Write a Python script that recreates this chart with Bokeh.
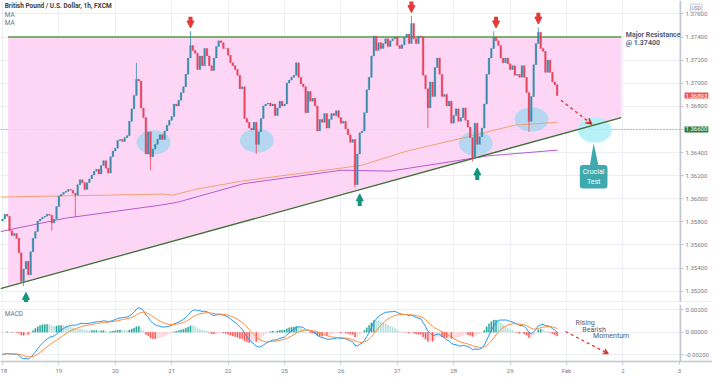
import numpy as np
from bokeh.plotting import figure
from bokeh.models import (Range1d, FixedTicker, PrintfTickFormatter, Label, Arrow,
                          NormalHead, VeeHead, ColumnDataSource, Span, BoxAnnotation)
from bokeh.layouts import column
from bokeh.embed import file_html
from bokeh.resources import INLINE

# ---------------- data ----------------
day_labels = ["18", "19", "20", "21", "22", "25", "26", "27", "28", "29", "Feb", "2", "3"]

first_open = 1.35807
close_18 = [1.35824, 1.35865, 1.35849, 1.35724, 1.35683, 1.35699, 1.35658, 1.35533, 1.35284, 1.35392, 1.35458, 1.35342,
            1.35541, 1.35658, 1.35716, 1.35807, 1.35824, 1.35840, 1.35849, 1.35865, 1.35857, 1.35790, 1.35824, 1.35932]
close_19 = [1.36023, 1.36039, 1.36056, 1.36064, 1.36081, 1.36073, 1.36048, 1.36031, 1.36122, 1.36164, 1.36139, 1.36081,
            1.36139, 1.36172, 1.36205, 1.36239, 1.36255, 1.36214, 1.36288, 1.36330, 1.36264, 1.36222, 1.36363, 1.36413]
close_20 = [1.36438, 1.36504, 1.36513, 1.36496, 1.36529, 1.36546, 1.36670, 1.36778, 1.36894, 1.37035, 1.37019, 1.36786,
            1.36703, 1.36388, 1.36579, 1.36363, 1.36430, 1.36471, 1.36513, 1.36554, 1.36513, 1.36587, 1.36637, 1.36679]
close_21 = [1.36712, 1.36820, 1.36803, 1.36853, 1.36919, 1.36969, 1.37077, 1.37218, 1.37326, 1.37284, 1.37260, 1.37118,
            1.37235, 1.37152, 1.37301, 1.37235, 1.37152, 1.37110, 1.37218, 1.37318, 1.37367, 1.37351, 1.37301, 1.37301]
close_22 = [1.37243, 1.37177, 1.37152, 1.37118, 1.37069, 1.36952, 1.36969, 1.36695, 1.36662, 1.36612, 1.36596, 1.36662,
            1.36471, 1.36579, 1.36695, 1.36803, 1.36820, 1.36828, 1.36803, 1.36820, 1.36720, 1.36786, 1.36845, 1.36803]
close_25 = [1.36820, 1.37002, 1.37027, 1.37052, 1.37069, 1.37177, 1.37052, 1.36994, 1.36969, 1.36745, 1.36928, 1.36845,
            1.36869, 1.36803, 1.36587, 1.36687, 1.36662, 1.36737, 1.36612, 1.36687, 1.36737, 1.36720, 1.36762, 1.36703]
close_26 = [1.36654, 1.36670, 1.36604, 1.36554, 1.36488, 1.36513, 1.36122, 1.36388, 1.36571, 1.36587, 1.36745, 1.36944,
            1.37052, 1.37235, 1.37409, 1.37284, 1.37351, 1.37301, 1.37343, 1.37384, 1.37318, 1.37367, 1.37384, 1.37401]
close_27 = [1.37326, 1.37301, 1.37334, 1.37401, 1.37426, 1.37343, 1.37517, 1.37384, 1.37343, 1.37409, 1.37401, 1.37069,
            1.36952, 1.36786, 1.37011, 1.36886, 1.37135, 1.37218, 1.37077, 1.36886, 1.36903, 1.36803, 1.36845, 1.36654]
close_28 = [1.36720, 1.36778, 1.36670, 1.36703, 1.36786, 1.36679, 1.36620, 1.36529, 1.36355, 1.36654, 1.36471, 1.36537,
            1.36612, 1.36820, 1.37077, 1.37218, 1.37301, 1.37401, 1.37367, 1.37326, 1.37218, 1.37177, 1.37218, 1.37168]
close_29 = [1.37118, 1.37152, 1.37069, 1.37077, 1.37052, 1.37152, 1.37052, 1.36919, 1.36670, 1.36886, 1.37160, 1.37343,
            1.37442, 1.37301, 1.37276, 1.37094, 1.37201, 1.37094, 1.37011, 1.36986, 1.36893]

# long wicks: (day index, hour, price)
wick_lows = [(0, 9, 1.35243), (0, 21, 1.35724), (1, 7, 1.35840), (2, 15, 1.36247), (4, 12, 1.36388),
             (6, 6, 1.36097), (7, 13, 1.36612), (8, 8, 1.36322), (9, 8, 1.36579)]
wick_highs = [(2, 9, 1.37177), (3, 8, 1.37450), (7, 6, 1.37583), (8, 17, 1.37450), (9, 12, 1.37484)]

# moving averages (time in trading days from Jan 18, price)
ma1_t = [-0.035, 2.85, 3.02, 3.42, 4.28, 6.36, 7.17, 8.26, 8.60, 9.08, 9.84]
ma1_v = [1.36015, 1.36040, 1.36031, 1.36081, 1.36156, 1.36288, 1.36413, 1.36537, 1.36579, 1.36637, 1.36662]
ma2_t = [-0.035, 1.12, 2.85, 3.13, 4.28, 6.01, 6.87, 7.74, 8.60, 9.84]
ma2_v = [1.35716, 1.35832, 1.35948, 1.35973, 1.36131, 1.36247, 1.36239, 1.36305, 1.36371, 1.36421]

resistance = 1.37400
key_level = 1.36600
last_price = 1.36893
trend_t = [0.0, 10.97]
trend_p = [1.35226, 1.36703]
zone_t0, zone_t1 = 0.10, 10.97

tops = [(3, 8, 1.37450), (7, 6, 1.37583), (8, 18, 1.37450), (9, 12, 1.37484)]
bottoms = [(0, 10, 1.35243), (6, 8, 1.36097), (8, 10, 1.36322)]
zones_t = [2.68, 4.51, 8.39, 9.38]
zones_p = [1.36488, 1.36504, 1.36479, 1.36687]
crucial_t, crucial_p = 10.50, 1.36596
proj_start = (9.90, 1.36853)
proj_end = (10.45, 1.36645)

# MACD seeds read from the left edge of the MACD panel (about -0.0020)
ema_fast_seed, ema_slow_seed, signal_seed = 1.36000, 1.36200, -0.00190
macd_note_t = [10.16, 10.28, 10.47]
macd_note_v = [0.00083, 0.00023, -0.00037]
macd_arrow = (9.98, 0.00006, 10.74, -0.00190)

price_ticks = [1.352, 1.354, 1.356, 1.358, 1.360, 1.362, 1.364, 1.366, 1.368, 1.370, 1.372, 1.374, 1.376]
macd_ticks = [-0.002, 0.0, 0.002]

# ---------------- derived series ----------------
days = [close_18, close_19, close_20, close_21, close_22, close_25, close_26, close_27, close_28, close_29]
closes = np.array(sum(days, []))
n = len(closes)
t = np.arange(n) / 24.0
opens = np.concatenate([[first_open], closes[:-1]])
highs = np.maximum(opens, closes)
lows = np.minimum(opens, closes)
for d, h, v in wick_highs:
    highs[d * 24 + h] = v
for d, h, v in wick_lows:
    lows[d * 24 + h] = v

UP, DOWN = "#3b8eab", "#e8455e"
ccol = [UP if c >= o else DOWN for o, c in zip(opens, closes)]
src = ColumnDataSource(dict(t=t, o=opens, c=closes, h=highs, l=lows,
                            top=np.maximum(opens, closes), bot=np.minimum(opens, closes), col=ccol))


def ema(vals, span, seed):
    a = 2.0 / (span + 1)
    out = np.empty(len(vals))
    prev = seed
    for i, v in enumerate(vals):
        prev = prev + a * (v - prev)
        out[i] = prev
    return out


macd = ema(closes, 12, ema_fast_seed) - ema(closes, 26, ema_slow_seed)
signal = ema(macd, 9, signal_seed)
hist = macd - signal
hcol = []
for i, hv in enumerate(hist):
    prev = hist[i - 1] if i else hv
    if hv >= 0:
        hcol.append("#26a69a" if hv >= prev else "#b2dfdb")
    else:
        hcol.append("#ff5252" if hv < prev else "#ffcdd2")


def trend(x):
    return trend_p[0] + (trend_p[1] - trend_p[0]) * (x - trend_t[0]) / (trend_t[1] - trend_t[0])


# ---------------- figures ----------------
FONT = "Roboto"
GRID = "#eceef3"
AX = "#787b86"
AXIS_AT = 12.02
xr = Range1d(-0.0345, 12.587)


def style_axis(a):
    a.major_label_text_font_size = "6px"
    a.major_label_text_font = FONT
    a.major_label_text_color = AX
    a.major_tick_out = 3
    a.major_tick_in = 0
    a.minor_tick_out = 0
    a.minor_tick_in = 0
    a.major_label_standoff = 2
    a.axis_line_color = "#c3c6ce"
    a.axis_line_width = 1.5
    a.major_tick_line_color = "#c3c6ce"


p1 = figure(frame_width=712, frame_height=302, x_range=xr, y_range=Range1d(1.35102, 1.37716),
            y_axis_location="right", output_backend="svg", toolbar_location=None,
            min_border_left=0, min_border_top=0, min_border_bottom=0, min_border_right=0)
p1.xaxis.visible = False
p1.outline_line_color = None
p1.xgrid.ticker = FixedTicker(ticks=list(range(13)))
p1.ygrid.ticker = FixedTicker(ticks=price_ticks)
for g in (p1.xgrid, p1.ygrid):
    g.grid_line_color = GRID
ya = p1.yaxis[0]
ya.fixed_location = AXIS_AT
ya.ticker = FixedTicker(ticks=price_ticks)
ya.formatter = PrintfTickFormatter(format="%.5f")
style_axis(ya)

p1.add_layout(Span(location=key_level, dimension="width", line_color="#808080",
                   line_dash="1 2", line_width=1, level="underlay"))
p1.add_layout(BoxAnnotation(left=AXIS_AT, fill_color="white", fill_alpha=1, line_alpha=0, level="underlay"))
p1.add_layout(Span(location=p1.y_range.start, dimension="width", line_color="#dfe2ea", line_width=2,
                   level="underlay"))

# pink triangle zone
p1.patch([zone_t0, zone_t1, zone_t1, zone_t0],
         [resistance, resistance, trend(zone_t1), trend(zone_t0)],
         fill_color="#fdd2f5", fill_alpha=0.9, line_alpha=0)

# zones
p1.ellipse(x=zones_t, y=zones_p, width=0.6, height=0.0021, fill_color="#a9d7f0",
           fill_alpha=0.85, line_alpha=0)
p1.ellipse(x=[crucial_t], y=[crucial_p], width=0.6, height=0.0022, fill_color="#b0f0f6",
           fill_alpha=0.9, line_alpha=0)

# MAs
p1.line(ma1_t, ma1_v, line_color="#f3a072", line_width=1)
p1.line(ma2_t, ma2_v, line_color="#b35bcf", line_width=1)

# lines
p1.line([zone_t0, zone_t1], [resistance, resistance], line_color="#539c3e", line_width=1.3)
p1.line([xr.start, trend_t[1]], [trend(xr.start), trend(trend_t[1])], line_color="#3f6f35", line_width=1.3)

# candles
p1.segment(x0="t", y0="h", x1="t", y1="l", color="col", line_width=0.8, source=src)
p1.vbar(x="t", top="top", bottom="bot", width=0.72 / 24, fill_color="col", line_color="col",
        line_width=0.3, source=src)

# pivot arrows
for d, h, v in tops:
    x = d + h / 24.0
    p1.add_layout(Arrow(end=NormalHead(size=7, fill_color="#e53935", line_color="#e53935"),
                        x_start=x, y_start=v + 0.00125, x_end=x, y_end=v + 0.00028,
                        line_color="#e53935", line_width=4))
for d, h, v in bottoms:
    x = d + h / 24.0
    p1.add_layout(Arrow(end=NormalHead(size=7, fill_color="#14957e", line_color="#14957e"),
                        x_start=x, y_start=v - 0.00160, x_end=x, y_end=v - 0.00055,
                        line_color="#14957e", line_width=4))

# projection arrow
p1.add_layout(Arrow(end=VeeHead(size=6, line_color="#e53935", line_width=1.2),
                    x_start=proj_start[0], y_start=proj_start[1], x_end=proj_end[0], y_end=proj_end[1],
                    line_color="#e53935", line_width=1.4, line_dash="3 3"))

# callout
p1.patch([crucial_t - 0.09, crucial_t + 0.07, crucial_t - 0.02],
         [1.36280, 1.36280, 1.36480], fill_color="#3fa9ad", line_alpha=0)
p1.add_layout(Label(x=crucial_t - 0.02, y=1.36190, text="Crucial\nTest", text_align="center",
                    text_baseline="middle", text_color="white", text_font=FONT, text_font_size="7px",
                    background_fill_color="#3fa9ad", padding=3, border_radius=3))

p1.add_layout(Label(x=11.05, y=1.37455, text="Major Resistance\n@ 1.37400", text_align="left",
                    text_baseline="top", text_color="#4f5d78", text_font=FONT, text_font_size="7px",
                    text_font_style="bold", text_line_height=1.05))

# header
p1.add_layout(Label(x=0.04, y=1.37666, text="British Pound / U.S. Dollar, 1h, FXCM", text_baseline="middle",
                    text_color="#3d3d3d", text_font=FONT, text_font_size="6.5px", text_font_style="bold"))
p1.add_layout(Label(x=0.04, y=1.37592, text="MA", text_baseline="middle",
                    text_color="#6f7280", text_font=FONT, text_font_size="6.5px"))
p1.add_layout(Label(x=0.04, y=1.37525, text="MA", text_baseline="middle",
                    text_color="#6f7280", text_font=FONT, text_font_size="6.5px"))

# axis flags
p1.add_layout(Label(x=AXIS_AT, y=last_price, x_offset=4, text="%.5f" % last_price, text_baseline="middle",
                    text_color="white", text_font=FONT, text_font_size="6px", level="overlay",
                    background_fill_color="#ef5350", padding=1))
p1.add_layout(Label(x=AXIS_AT, y=key_level, x_offset=4, text="%.5f" % key_level, text_baseline="middle",
                    text_color="white", text_font=FONT, text_font_size="6px", level="overlay",
                    background_fill_color="#2e7d32", padding=1))
p1.add_layout(Label(x=AXIS_AT, y=1.37650, x_offset=10, text="USD", text_baseline="middle",
                    text_color="#787b86", text_font=FONT, text_font_size="5px", level="overlay",
                    border_line_color="#c8cbd3", padding=1))

# ---------------- MACD panel ----------------
p2 = figure(frame_width=712, frame_height=57, x_range=xr, y_range=Range1d(-0.00259, 0.00245),
            y_axis_location="right", output_backend="svg", toolbar_location=None,
            min_border_left=0, min_border_top=2, min_border_bottom=0, min_border_right=0)
p2.outline_line_color = None
p2.xgrid.ticker = FixedTicker(ticks=list(range(13)))
p2.ygrid.ticker = FixedTicker(ticks=macd_ticks)
for g in (p2.xgrid, p2.ygrid):
    g.grid_line_color = GRID
y2 = p2.yaxis[0]
y2.fixed_location = AXIS_AT
y2.ticker = FixedTicker(ticks=macd_ticks)
y2.formatter = PrintfTickFormatter(format="%.5f")
xa = p2.xaxis[0]
xa.ticker = FixedTicker(ticks=list(range(13)))
xa.major_label_overrides = {i: s for i, s in enumerate(day_labels)}
style_axis(y2)
style_axis(xa)
p2.add_layout(BoxAnnotation(left=AXIS_AT, fill_color="white", fill_alpha=1, line_alpha=0, level="underlay"))

p2.vbar(x=t, top=hist, bottom=0, width=0.55 / 24, fill_color=hcol, line_color=hcol, line_width=0.3)
p2.line(t, macd, line_color="#2196f3", line_width=1)
p2.line(t, signal, line_color="#ff8a3d", line_width=1)
p2.add_layout(Label(x=0.04, y=0.0016, text="MACD", text_baseline="middle", text_color="#6f7280",
                    text_font=FONT, text_font_size="6.5px"))
for tt, vv, s in zip(macd_note_t, macd_note_v, ["Rising", "Bearish", "Momentum"]):
    p2.add_layout(Label(x=tt, y=vv, text=s, text_baseline="middle", text_color="#4f5d78",
                        text_font=FONT, text_font_size="7px"))
p2.add_layout(Arrow(end=VeeHead(size=5, line_color="#e53935", line_width=1.2),
                    x_start=macd_arrow[0], y_start=macd_arrow[1], x_end=macd_arrow[2], y_end=macd_arrow[3],
                    line_color="#e53935", line_width=1.3, line_dash="3 3"))

layout = column(p1, p2, spacing=0)
open("out.html", "w").write(file_html(layout, INLINE))
